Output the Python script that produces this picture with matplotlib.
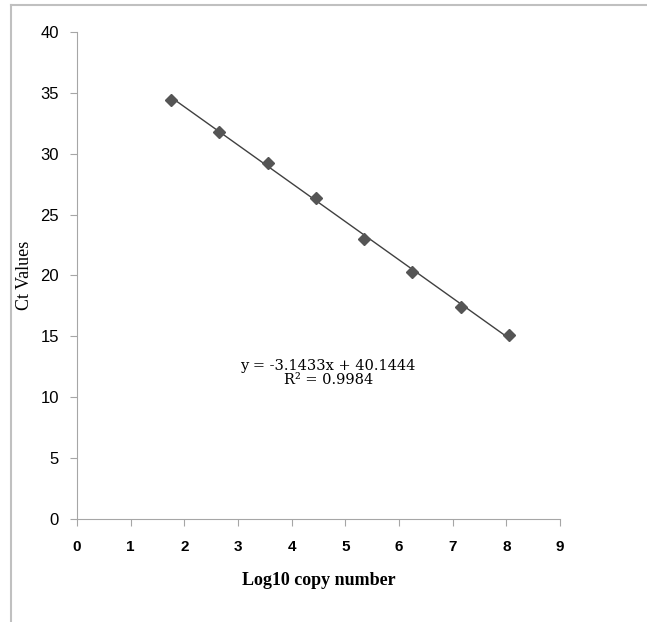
import numpy as np
import matplotlib
matplotlib.use("Agg")
import matplotlib.pyplot as plt
from matplotlib.lines import Line2D

log_copies = [1.75, 2.65, 3.55, 4.45, 5.35, 6.25, 7.15, 8.05]
ct_values = [34.4, 31.8, 29.2, 26.4, 23.0, 20.3, 17.4, 15.1]
slope = -3.1433
intercept = 40.1444
r2 = 0.9984

fig = plt.figure(figsize=(6.47, 6.22), dpi=100)
ax = fig.add_axes([0.119, 0.1656, 0.7465, 0.783])

# trend line over the data range
xs = np.array([min(log_copies), max(log_copies)])
ax.plot(xs, slope * xs + intercept, color="#404040", linewidth=1.0, zorder=2)
ax.plot(log_copies, ct_values, linestyle="none", marker="D", markersize=6.5,
        color="#555555", zorder=3)

ax.text(4.68, 12.0, f"y = {slope}x + {intercept}\nR² = {r2}",
        ha="center", va="center", fontsize=10.5, family="DejaVu Serif",
        linespacing=1.05)

ax.set_xlim(0, 9)
ax.set_ylim(0, 40)
ax.set_xticks(range(0, 10))
ax.set_yticks(range(0, 45, 5))

for side in ["top", "right"]:
    ax.spines[side].set_visible(False)
for side in ["left", "bottom"]:
    ax.spines[side].set_color("#a6a6a6")
ax.tick_params(axis="both", colors="#a6a6a6", length=5, labelcolor="black")
ax.tick_params(axis="x", pad=10)
ax.tick_params(axis="y", pad=8)
for lab in ax.get_xticklabels():
    lab.set_family("Liberation Sans")
    lab.set_fontweight("bold")
    lab.set_fontsize(11)
for lab in ax.get_yticklabels():
    lab.set_family("Liberation Sans")
    lab.set_fontsize(12)

ax.set_xlabel("Log10 copy number", family="Liberation Serif", fontweight="bold",
              fontsize=13, labelpad=13)
ax.set_ylabel("Ct Values", family="Liberation Serif", fontsize=13, labelpad=5)

# outer frame (top and left edges only)
fig.add_artist(Line2D([0.017, 1.0], [0.992, 0.992], transform=fig.transFigure,
                      color="#c0c0c0", linewidth=1.5))
fig.add_artist(Line2D([0.017, 0.017], [0.0, 0.992], transform=fig.transFigure,
                      color="#c0c0c0", linewidth=1.5))

fig.savefig("out.png", dpi=100)
